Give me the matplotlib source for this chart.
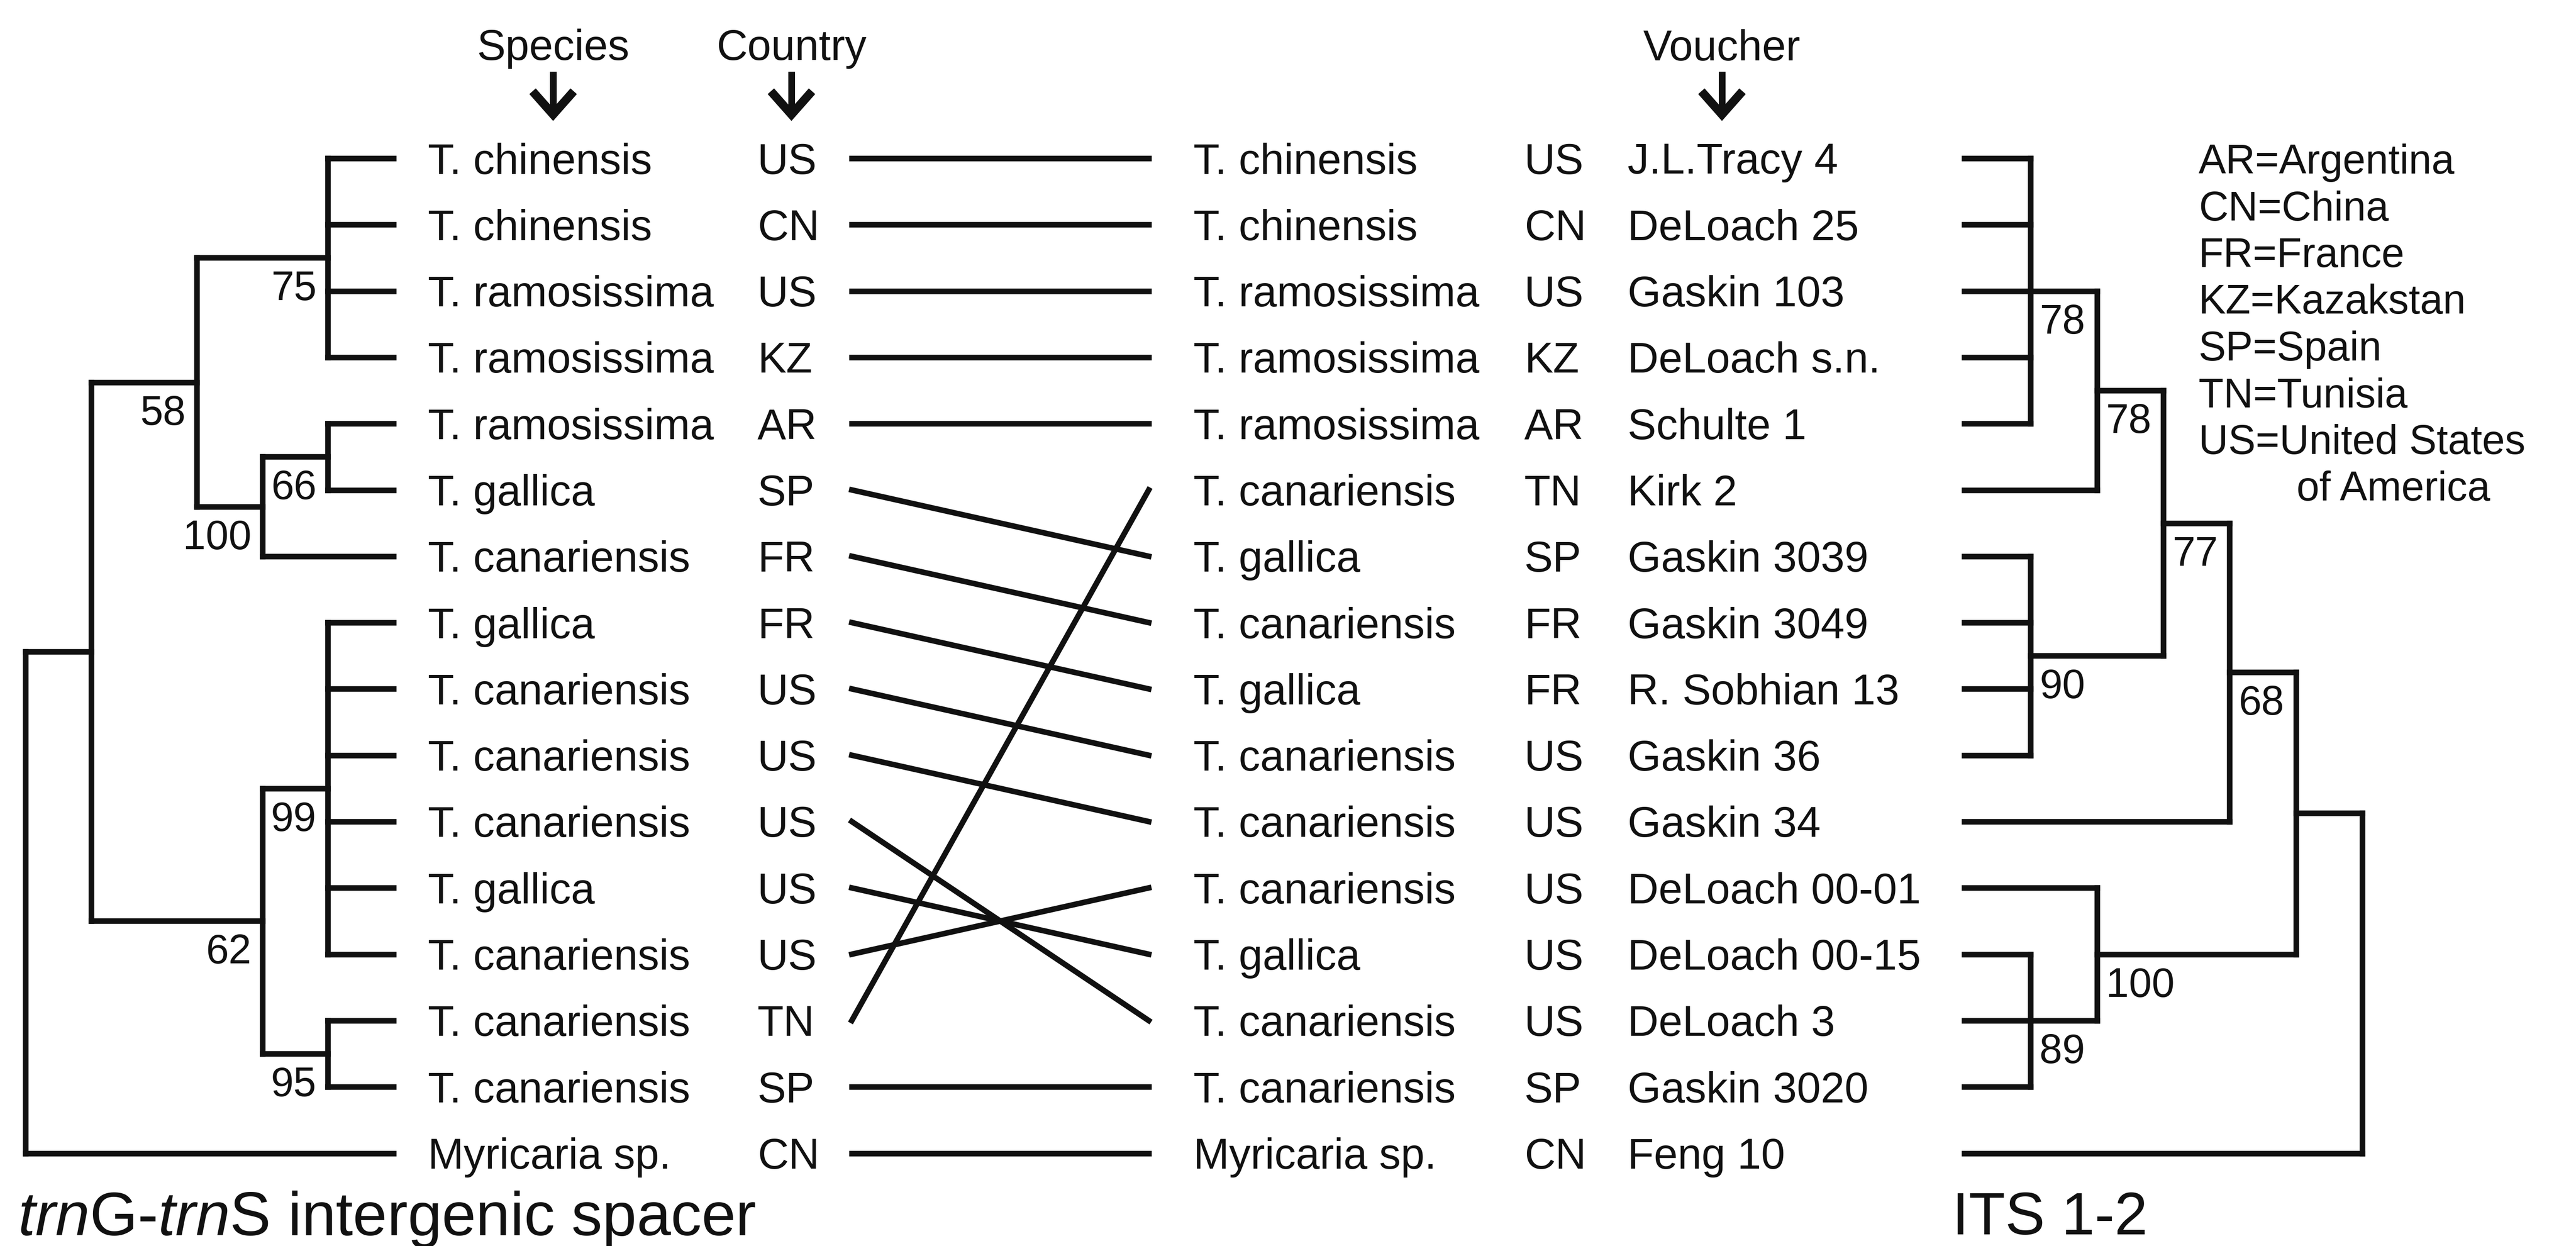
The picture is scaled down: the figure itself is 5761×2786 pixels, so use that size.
"""
Tanglegram: trnG-trnS (left) vs ITS 1-2 (right) cladograms for Tamarix samples.
Run: python plot.py  -> out.png
"""

import matplotlib
matplotlib.use("Agg")
import matplotlib.pyplot as plt

# ---- data ----
left_species = ["T. chinensis", "T. chinensis", "T. ramosissima", "T. ramosissima",
                "T. ramosissima", "T. gallica", "T. canariensis", "T. gallica",
                "T. canariensis", "T. canariensis", "T. canariensis", "T. gallica",
                "T. canariensis", "T. canariensis", "T. canariensis", "Myricaria sp."]
left_country = ["US", "CN", "US", "KZ", "AR", "SP", "FR", "FR",
                "US", "US", "US", "US", "US", "TN", "SP", "CN"]

right_species = ["T. chinensis", "T. chinensis", "T. ramosissima", "T. ramosissima",
                 "T. ramosissima", "T. canariensis", "T. gallica", "T. canariensis",
                 "T. gallica", "T. canariensis", "T. canariensis", "T. canariensis",
                 "T. gallica", "T. canariensis", "T. canariensis", "Myricaria sp."]
right_country = ["US", "CN", "US", "KZ", "AR", "TN", "SP", "FR",
                 "FR", "US", "US", "US", "US", "US", "SP", "CN"]
right_voucher = ["J.L.Tracy 4", "DeLoach 25", "Gaskin 103", "DeLoach s.n.", "Schulte 1",
                 "Kirk 2", "Gaskin 3039", "Gaskin 3049", "R. Sobhian 13", "Gaskin 36",
                 "Gaskin 34", "DeLoach 00-01", "DeLoach 00-15", "DeLoach 3",
                 "Gaskin 3020", "Feng 10"]

# right-hand row matched by each left-hand row
links = [0, 1, 2, 3, 4, 6, 7, 8, 9, 10, 13, 12, 11, 5, 14, 15]

# trees: (bootstrap, [children]); ints are leaf rows
left_tree = (None, [
    (None, [
        (58, [(75, [0, 1, 2, 3]), (100, [(66, [4, 5]), 6])]),
        (62, [(99, [7, 8, 9, 10, 11, 12]), (95, [13, 14])]),
    ]),
    15,
])
right_tree = (None, [
    (None, [
        (68, [(77, [(78, [(78, [0, 1, 2, 3, 4]), 5]), (90, [6, 7, 8, 9])]), 10]),
        (100, [11, (89, [12, 13, 14])]),
    ]),
    15,
])

headers = ["Species", "Country", "Voucher"]
legend_codes = ["AR", "CN", "FR", "KZ", "SP", "TN", "US"]
legend_names = ["Argentina", "China", "France", "Kazakstan", "Spain", "Tunisia",
                "United States"]

# ---- layout (pixel coordinates, y downwards) ----
W, H, DPI = 5761, 2786, 300
ROW_Y0, ROW_STEP = 354, 148.3
LEFT_LEVEL_X = [880, 733, 587, 440, 204, 57]      # x of nodes by height
RIGHT_LEAF_X, RIGHT_STEP = 4393, 148.3
X_LSPECIES, X_LCOUNTRY = 957, 1694
X_LINK0, X_LINK1 = 1905, 2569
X_RSPECIES, X_RCOUNTRY, X_VOUCHER = 2669, 3409, 3640
HEADER_X = [1237, 1770, 3851]
X_LEGEND, LEGEND_Y0, LEGEND_STEP = 4917, 355, 104.5

LW = 3.0
INK = "#111111"
FONT = "Liberation Sans"
LABEL_PT, SMALL_PT = 23, 22


def px_em(pt):
    return pt / 72 * DPI


def row_y(i):
    return ROW_Y0 + ROW_STEP * i


def seg(ax, xs, ys):
    ax.plot(xs, ys, color=INK, lw=LW, solid_capstyle="projecting")


def text_row(ax, x, y, s, pt=LABEL_PT, **kw):
    # y is the visual centre of the capitals
    ax.text(x, y + 0.36 * px_em(pt), s, fontsize=pt, family=FONT, color=INK,
            va="baseline", **kw)


def draw_tree(ax, node, x_of, side):
    """Draw a rectangular cladogram; returns (height, y) of the node."""
    if isinstance(node, int):
        return 0, row_y(node)
    support, children = node
    kids = [draw_tree(ax, c, x_of, side) for c in children]
    h = max(k[0] for k in kids) + 1
    x = x_of(h)
    ys = [k[1] for k in kids]
    y = (ys[0] + ys[-1]) / 2
    for kh, ky in kids:
        seg(ax, [x, x_of(kh)], [ky, ky])
    seg(ax, [x, x], [ys[0], ys[-1]])
    if support is not None:
        if side == "left":
            ax.text(x - 25, y + 28, str(support), ha="right", va="top",
                    fontsize=SMALL_PT, family=FONT, color=INK)
        else:
            ax.text(x + 20, y + 28, str(support), ha="left", va="top",
                    fontsize=SMALL_PT, family=FONT, color=INK)
    return h, y


def draw_header(ax, x, label):
    ax.text(x, 100 + 0.36 * px_em(LABEL_PT), label, ha="center", va="baseline",
            fontsize=LABEL_PT, family=FONT, color=INK)
    # bold down arrow under the header
    ax.plot([x, x], [160, 250], color=INK, lw=3.6, solid_capstyle="butt")
    ax.plot([x - 46, x, x + 46], [204, 256, 204], color=INK, lw=4.6,
            solid_joinstyle="miter", solid_capstyle="butt")


def main():
    plt.rcParams["mathtext.fontset"] = "custom"
    plt.rcParams["mathtext.rm"] = FONT
    plt.rcParams["mathtext.it"] = FONT + ":italic"

    fig = plt.figure(figsize=(W / DPI, H / DPI), dpi=DPI)
    ax = fig.add_axes([0, 0, 1, 1])
    ax.set_xlim(0, W)
    ax.set_ylim(H, 0)
    ax.axis("off")

    # column headers
    for x, label in zip(HEADER_X, headers):
        draw_header(ax, x, label)

    # trees
    draw_tree(ax, left_tree, lambda h: LEFT_LEVEL_X[h], "left")
    draw_tree(ax, right_tree, lambda h: RIGHT_LEAF_X + RIGHT_STEP * h, "right")

    # tip labels
    for i in range(len(left_species)):
        y = row_y(i)
        text_row(ax, X_LSPECIES, y, left_species[i])
        text_row(ax, X_LCOUNTRY, y, left_country[i])
        text_row(ax, X_RSPECIES, y, right_species[i])
        text_row(ax, X_RCOUNTRY, y, right_country[i])
        text_row(ax, X_VOUCHER, y, right_voucher[i])

    # connecting lines
    for i, j in enumerate(links):
        seg(ax, [X_LINK0, X_LINK1], [row_y(i), row_y(j)])

    # country code key
    for k, (code, name) in enumerate(zip(legend_codes, legend_names)):
        text_row(ax, X_LEGEND, LEGEND_Y0 + LEGEND_STEP * k, f"{code}={name}", pt=SMALL_PT)
    text_row(ax, 5136, LEGEND_Y0 + LEGEND_STEP * len(legend_codes), "of America", pt=SMALL_PT)

    # tree titles
    ax.text(40, 2762, r"$\it{trn}$G-$\it{trn}$S intergenic spacer", fontsize=33,
            family=FONT, color=INK, va="baseline")
    ax.text(4366, 2760, "ITS 1-2", fontsize=32, family=FONT, color=INK, va="baseline")

    fig.savefig("out.png", dpi=DPI, facecolor="white")
    plt.close(fig)


if __name__ == "__main__":
    main()
